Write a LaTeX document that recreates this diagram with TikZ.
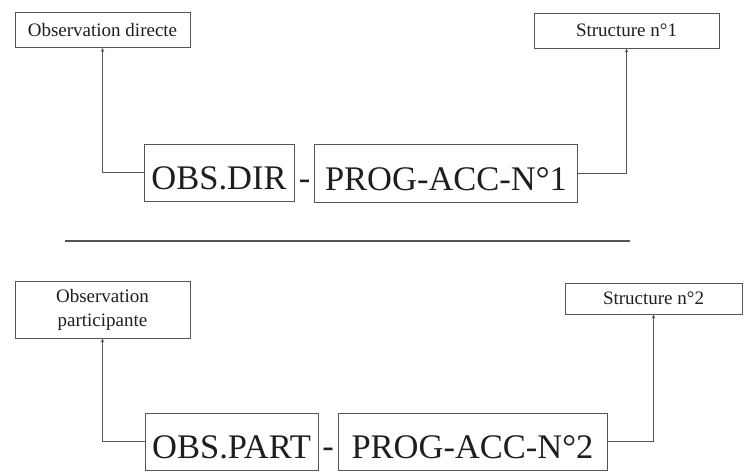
\documentclass[tikz,border=0pt]{standalone}
\usepackage{fontspec}
\setmainfont{Liberation Serif}
\usetikzlibrary{arrows.meta}
\definecolor{linegray}{HTML}{555555}
\definecolor{inkgray}{HTML}{1E1E1E}
\begin{document}
\begin{tikzpicture}[x=1pt,y=-1pt,
  smallbox/.style={draw=linegray,line width=1pt,inner sep=0pt,align=center,
    text=inkgray,font=\fontsize{19}{24}\selectfont},
  bigbox/.style={draw=linegray,line width=1pt,inner sep=0pt,
    text height=34pt,text depth=0pt,text=inkgray,
    font=\fontsize{34.5}{40}\selectfont},
  sep/.style={text=inkgray,font=\fontsize{34.5}{40}\selectfont,inner sep=0pt,anchor=base},
  link/.style={draw=linegray,line width=1pt,-{Stealth[length=4pt,width=3.5pt]}}
]
\useasboundingbox (0,0) rectangle (744,472);

% upper chain
\node[smallbox,minimum width=175pt,minimum height=35pt] (obsd) at (102.5,30) {Observation directe};
\node[smallbox,minimum width=185pt,minimum height=35pt] (struct1) at (626.5,30.5) {Structure n°1};
\node[bigbox,minimum width=150pt,minimum height=57pt] (obsdir) at (219,172.5) {OBS.DIR};
\node[bigbox,minimum width=263pt,minimum height=58pt] (prog1) at (446,173.5) {PROG-ACC-N°1};
\node[sep] (dash1) at (304.5,189.5) {-};
\draw[link] (obsdir.west) -| (obsd.south);
\draw[link] (prog1.east) -| (struct1.south);

% separator rule
\coordinate (ruleL) at (65,241);
\coordinate (ruleR) at (630,241);
\draw[linegray,line width=1.3pt] (ruleL) -- (ruleR);

% lower chain
\node[smallbox,minimum width=175pt,minimum height=57pt] (obsp) at (102.5,309.5) {Observation\\participante};
\node[smallbox,minimum width=177pt,minimum height=31pt] (struct2) at (653.5,298.5) {Structure n°2};
\node[bigbox,minimum width=173pt,minimum height=57pt] (obspart) at (231.5,441.5) {OBS.PART};
\node[bigbox,minimum width=269pt,minimum height=57pt] (prog2) at (472.5,441.5) {PROG-ACC-N°2};
\node[sep] (dash2) at (328,457.5) {-};
\draw[link] (obspart.west) -| (obsp.south);
\draw[link] (prog2.east) -| (struct2.south);
\end{tikzpicture}
\end{document}
